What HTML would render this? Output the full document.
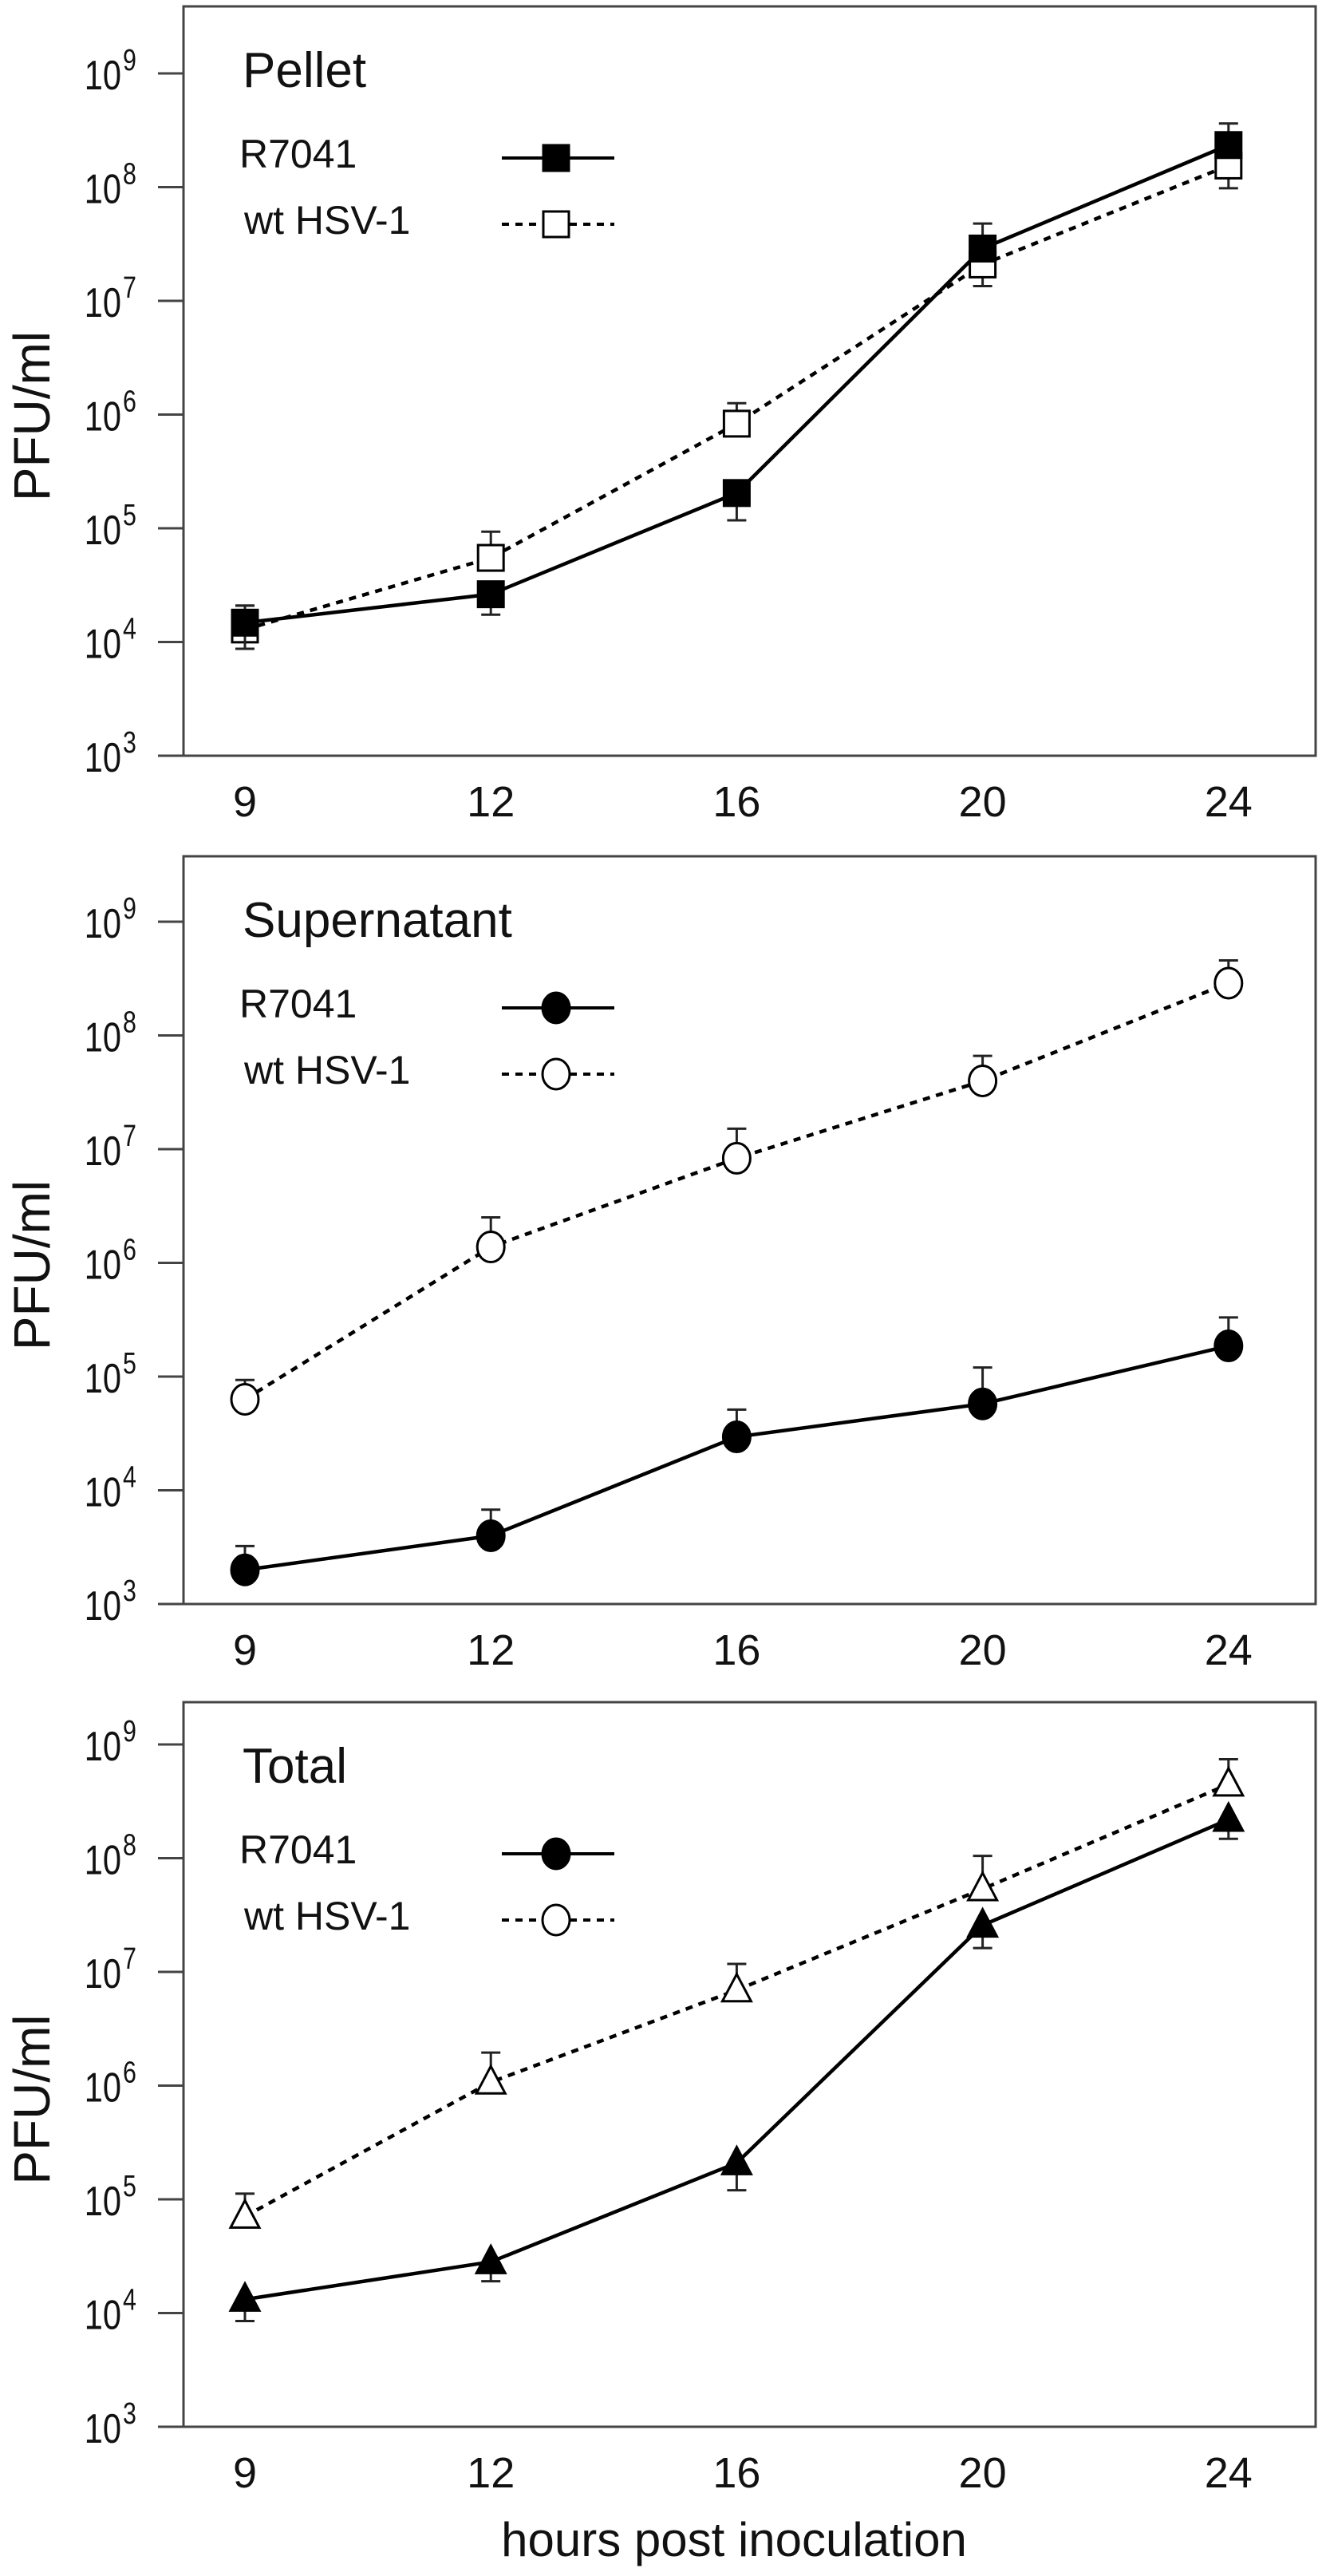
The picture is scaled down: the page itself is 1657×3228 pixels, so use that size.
<!DOCTYPE html>
<html><head><meta charset="utf-8"><style>
html,body{margin:0;padding:0;background:#fff;}
svg{display:block;font-family:"Liberation Sans",sans-serif;}
</style></head><body>
<svg id="chart" width="1657" height="3228" viewBox="0 0 1657 3228" xmlns="http://www.w3.org/2000/svg"></svg>
<script>
const categories = ["9","12","16","20","24"];
const yTickExps = [3,4,5,6,7,8,9];
const panelTitles = ["Pellet","Supernatant","Total"];
const legendLabels = ["R7041","wt HSV-1"];
// log10 values
const pelletR = [4.17,4.42,5.31,7.46,8.37];
const pelletRLo = [3.94,4.24,5.07,0,0];
const pelletRHi = [4.32,0,0,7.68,8.56];
const pelletW = [4.11,4.74,5.92,7.32,8.19];
const pelletWLo = [0,0,0,7.13,7.99];
const pelletWHi = [4.32,4.97,6.10,0,0];
const superR = [3.30,3.60,4.47,4.76,5.27];
const superRLo = [0,0,0,0,0];
const superRHi = [3.51,3.83,4.71,5.08,5.52];
const superW = [4.80,6.14,6.92,7.60,8.46];
const superWLo = [0,0,0,0,0];
const superWHi = [4.97,6.40,7.18,7.82,8.66];
const totalR = [4.12,4.45,5.32,7.41,8.34];
const totalRLo = [3.93,4.28,5.08,7.21,8.17];
const totalRHi = [0,0,0,0,0];
const totalW = [4.85,6.03,6.84,7.73,8.65];
const totalWLo = [0,0,0,0,0];
const totalWHi = [5.05,6.29,7.07,8.02,8.87];

const svg = document.getElementById('chart');
const NS = 'http://www.w3.org/2000/svg';
function mk(tag, attrs, parent){ const e=document.createElementNS(NS,tag); for(const k in attrs) e.setAttribute(k,attrs[k]); (parent||svg).appendChild(e); return e; }

const panels = [
 {top:8, axis:947, R:pelletR,RLo:pelletRLo,RHi:pelletRHi,W:pelletW,WLo:pelletWLo,WHi:pelletWHi, marker:'square', legW:'square', legR:'square'},
 {top:1073, axis:2010, R:superR,RLo:superRLo,RHi:superRHi,W:superW,WLo:superWLo,WHi:superWHi, marker:'circle', legW:'circle', legR:'circle'},
 {top:2133, axis:3041, R:totalR,RLo:totalRLo,RHi:totalRHi,W:totalW,WLo:totalWLo,WHi:totalWHi, marker:'triangle', legW:'circle', legR:'circle'}
];
const left=230, right=1649, decade=142.5;
function xPos(i){ return 307 + i*308.2; }

function marker(g, type, x, y, filled){
  const fill = filled ? '#000' : '#fff';
  let m;
  if(type==='square') m = mk('rect',{x:x-16,y:y-16,width:32,height:32,fill:fill,stroke:'#000','stroke-width':3},g);
  else if(type==='circle') m = mk('ellipse',{cx:x,cy:y,rx:17,ry:19,fill:fill,stroke:'#000','stroke-width':3},g);
  else m = mk('polygon',{points:`${x},${y-20} ${x+18},${y+14} ${x-18},${y+14}`,fill:fill,stroke:'#000','stroke-width':3},g);
  return m;
}

panels.forEach((p,pi)=>{
  const g = mk('g',{});
  
  
  const yPos = v => p.axis - (v-3)*decade;
  const frame = mk('rect',{x:left,y:p.top,width:right-left,height:p.axis-p.top,fill:'none',stroke:'#444','stroke-width':3},g);
  
  
  yTickExps.forEach(e=>{
    const y=yPos(e);
    const t=mk('line',{x1:198,y1:y,x2:left,y2:y,stroke:'#444','stroke-width':3},g);
    
    
    const tx=mk('text',{x:152,y:y+20,'font-size':52,'text-anchor':'end',fill:'#111',transform:`translate(152 0) scale(0.8 1) translate(-152 0)`},g);
    tx.textContent='10';
    
    
    const sp=mk('text',{x:154,y:y-4,'font-size':38,fill:'#111',transform:`translate(154 0) scale(0.8 1) translate(-154 0)`},g);
    sp.textContent=String(e);
    
    
  });
  categories.forEach((c,i)=>{
    const t=mk('text',{x:xPos(i),y:p.axis+76,'font-size':54,'text-anchor':'middle',fill:'#111'},g);
    t.textContent=c;
    
    
  });
  const yl=mk('text',{x:0,y:0,'font-size':64,'text-anchor':'middle',fill:'#111',transform:`translate(62 ${(p.top+p.axis)/2+44}) rotate(-90)`},g);
  yl.textContent='PFU/ml';
  
  
  const ti=mk('text',{x:304,y:p.top+101,'font-size':62,fill:'#111'},g);
  ti.textContent=panelTitles[pi];
  
  
  const l1=mk('text',{x:300,y:p.top+202,'font-size':50,fill:'#111'},g);
  l1.textContent=legendLabels[0];
  
  
  mk('line',{x1:629,y1:p.top+190,x2:770,y2:p.top+190,stroke:'#000','stroke-width':4},g);
  marker(g,p.legR,697,p.top+190,true);
  const l2=mk('text',{x:306,y:p.top+285,'font-size':50,fill:'#111'},g);
  l2.textContent=legendLabels[1];
  
  
  mk('line',{x1:629,y1:p.top+273,x2:770,y2:p.top+273,stroke:'#000','stroke-width':4,'stroke-dasharray':'9 8'},g);
  marker(g,p.legW,697,p.top+273,false);
  [['W',false,'9 8'],['R',true,'']].forEach(([k,filled,dash])=>{
    const vals=p[k], lo=p[k+'Lo'], hi=p[k+'Hi'];
    const pts=vals.map((v,i)=>`${xPos(i)},${yPos(v)}`).join(' ');
    const pl=mk('polyline',{points:pts,fill:'none',stroke:'#000','stroke-width':4.5,'stroke-dasharray':dash},g);
    
    
    vals.forEach((v,i)=>{
      [lo[i],hi[i]].forEach(e=>{ if(e){
        const x=xPos(i);
        const eb=mk('line',{x1:x,y1:yPos(v),x2:x,y2:yPos(e),stroke:'#222','stroke-width':3},g);
        
        
        mk('line',{x1:x-12,y1:yPos(e),x2:x+12,y2:yPos(e),stroke:'#222','stroke-width':3},g);
      }});
    });
    vals.forEach((v,i)=>{
      const m=marker(g,p.marker,xPos(i),yPos(v),filled);
      
      
    });
  });
});
const xt=mk('text',{x:920,y:3203,'font-size':60,'text-anchor':'middle',fill:'#111'});
xt.textContent='hours post inoculation';


</script>
</body></html>
